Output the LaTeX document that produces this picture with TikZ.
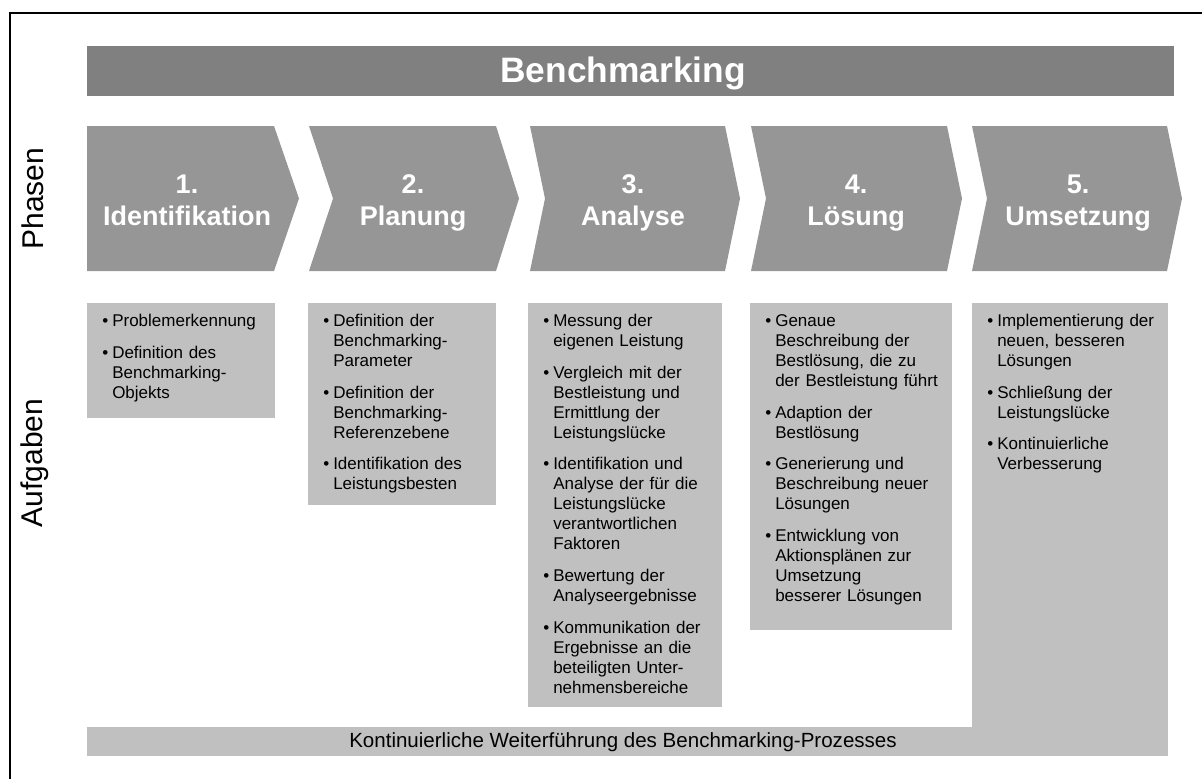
\documentclass[tikz,border=0pt]{standalone}
\usepackage{fontspec}
\setmainfont{Liberation Sans}
\usetikzlibrary{calc}
\definecolor{kopfgrau}{HTML}{808080}
\definecolor{phasengrau}{HTML}{969696}
\definecolor{aufgabengrau}{HTML}{C0C0C0}

% one bullet point with hanging indent
\newcommand{\punkt}[1]{\par\hangindent=7.5pt\hangafter=1\noindent\makebox[7.5pt][l]{\textbullet}#1\par\vskip 8.8pt}

\begin{document}
\begin{tikzpicture}[x=0.75pt,y=-0.75pt,
    phasentext/.style={text=white,align=center,font=\fontsize{20.25}{24}\selectfont\bfseries},
    aufgabe/.style={anchor=north west,inner sep=0pt,text width=#1,
        font=\fontsize{12.75}{15}\selectfont,execute at begin node={\parskip=0pt}},
    seite/.style={rotate=90,inner sep=0pt,font=\fontsize{22.5}{27}\selectfont}]
\useasboundingbox (0,0) rectangle (1202,779);

% frame
\draw[line width=1pt] (10,779) -- (10,13) -- (1202,13);

% title bar
\fill[kopfgrau] (87,46) rectangle (1174,96);
\node[text=white,font=\fontsize{26.5}{30}\selectfont\bfseries] (titel) at (623,73) {Benchmarking};

% row labels
\node[seite] (phasen) at (32.5,198.5) {Phasen};
\node[seite] (aufgaben) at (35,463) {Aufgaben};

% phases
\foreach \nr/\l/\k/\r/\s/\cx/\name in {1/87/87/274/299/187/Identifikation,
    2/309/333/496/519/413/Planung, 3/530/545/725/740/633/Analyse,
    4/751/766/947/962/856/Lösung, 5/972/987/1167/1182/1078/Umsetzung} {
  \fill[phasengrau] (\l,126) -- (\r,126) -- (\s,198.5) -- (\r,271)
        -- (\l,271) -- (\k,198.5) -- cycle;
  \node[phasentext] (p\nr) at (\cx,205) {\nr.\\\name\strut};
}

% tasks
\fill[aufgabengrau] (87,303) rectangle (275,418);
\fill[aufgabengrau] (308,303) rectangle (496,505);
\fill[aufgabengrau] (528,303) rectangle (722,707);
\fill[aufgabengrau] (750,303) rectangle (952,630);
\fill[aufgabengrau] (972,303) rectangle (1168,756);
\fill[aufgabengrau] (87,727) rectangle (1168,756);

\node[aufgabe=132pt] (a1) at (102,306) {%
  \punkt{Problemerkennung}
  \punkt{Definition des\newline Benchmarking-\newline Objekts}};
\node[aufgabe=132pt] (a2) at (323,306) {%
  \punkt{Definition der\newline Benchmarking-\newline Parameter}
  \punkt{Definition der\newline Benchmarking-\newline Referenzebene}
  \punkt{Identifikation des\newline Leistungsbesten}};
\node[aufgabe=136pt] (a3) at (543,306) {%
  \punkt{Messung der\newline eigenen Leistung}
  \punkt{Vergleich mit der\newline Bestleistung und\newline Ermittlung der\newline Leistungslücke}
  \punkt{Identifikation und\newline Analyse der für die\newline Leistungslücke\newline verantwortlichen\newline Faktoren}
  \punkt{Bewertung der\newline Analyseergebnisse}
  \punkt{Kommunikation der\newline Ergebnisse an die\newline beteiligten Unter-\newline nehmensbereiche}};
\node[aufgabe=142pt] (a4) at (765,306) {%
  \punkt{Genaue\newline Beschreibung der\newline Bestlösung, die zu\newline der Bestleistung führt}
  \punkt{Adaption der\newline Bestlösung}
  \punkt{Generierung und\newline Beschreibung neuer\newline Lösungen}
  \punkt{Entwicklung von\newline Aktionsplänen zur\newline Umsetzung\newline besserer Lösungen}};
\node[aufgabe=138pt] (a5) at (987,306) {%
  \punkt{Implementierung der\newline neuen, besseren\newline Lösungen}
  \punkt{Schließung der\newline Leistungslücke}
  \punkt{Kontinuierliche\newline Verbesserung}};

\node[font=\fontsize{15.4}{18}\selectfont] (weiter) at (623,742)
  {Kontinuierliche Weiterführung des Benchmarking-Prozesses};
\end{tikzpicture}
\end{document}
